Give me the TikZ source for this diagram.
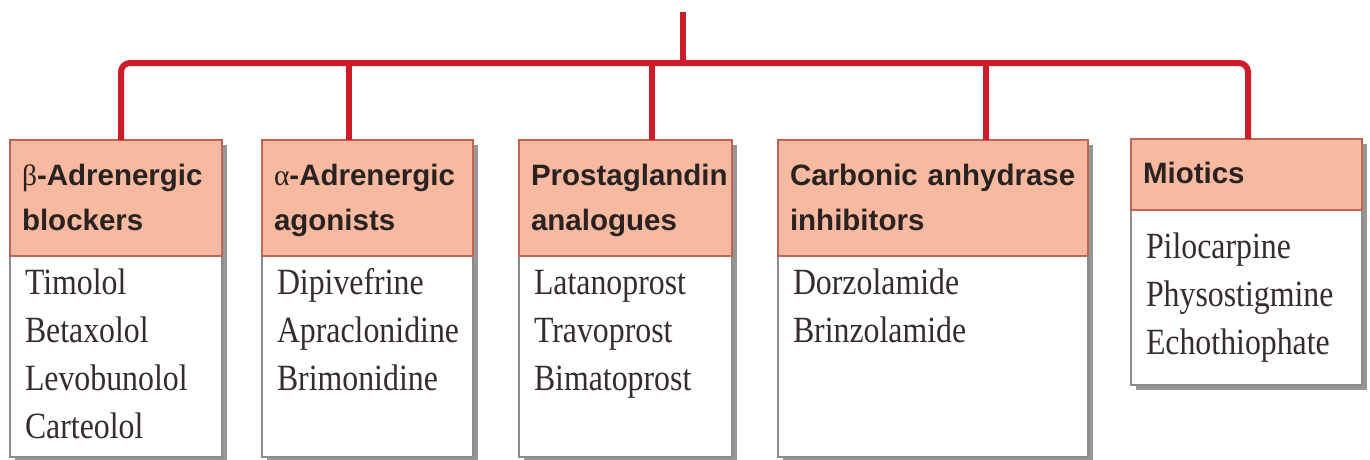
\documentclass[tikz,border=0pt]{standalone}
\usepackage{fontspec}
\setmainfont{Liberation Serif}
\setsansfont{Liberation Sans}
\newfontfamily\drugfont[FakeStretch=0.86]{Liberation Serif}
\usetikzlibrary{positioning,backgrounds}

\definecolor{hdrfill}{RGB}{247,186,160}
\definecolor{hdrline}{RGB}{192,100,84}
\definecolor{treered}{RGB}{206,28,42}
\definecolor{bodyline}{RGB}{140,140,140}
\definecolor{shadowgray}{RGB}{150,150,150}
\definecolor{inktext}{RGB}{42,34,32}

\begin{document}
\begin{tikzpicture}[
      x=1pt,y=-1pt,
      every node/.style={inner sep=0pt,outer sep=0pt},
      hdr/.style={draw=hdrline,line width=1.6pt,fill=hdrfill,align=left,inner xsep=12pt,
        font=\sffamily\bfseries\fontsize{29.5}{45}\selectfont,text=inktext,text width=#1},
      drugs/.style={draw=bodyline,line width=1.4pt,fill=white,anchor=north west,align=left,inner xsep=15pt,
        font=\drugfont\fontsize{37}{48}\selectfont,text=inktext!95,text width=#1},
      link/.style={draw=treered,line width=6pt}
    ]
    \useasboundingbox (0,0) rectangle (1370,459);
    % drug lists
    \node[drugs=182,text height=38pt,text depth=163pt] (b1) at (10,256) {Timolol\\ Betaxolol\\ Levobunolol\\ Carteolol};
    \node[drugs=181,text height=38pt,text depth=163pt] (b2) at (262,256) {Dipivefrine\\ Apraclonidine\\ Brimonidine};
    \node[drugs=183,text height=38pt,text depth=163pt] (b3) at (519,256) {Latanoprost\\ Travoprost\\ Bimatoprost};
    \node[drugs=280,text height=38pt,text depth=163pt] (b4) at (778,256) {Dorzolamide\\ Brinzolamide};
    \node[drugs=201,text height=48pt,text depth=127pt] (b5) at (1131,210) {Pilocarpine\\ Physostigmine\\ Echothiophate};
    % class headers
    \node[hdr=188,text height=45pt,text depth=71pt,above=0pt of b1] (h1) {{\rmfamily\mdseries β}-Adrenergic\\ blockers};
    \node[hdr=187,text height=45pt,text depth=71pt,above=0pt of b2] (h2) {{\rmfamily\mdseries α}-Adrenergic\\ agonists};
    \node[hdr=189,text height=45pt,text depth=71pt,above=0pt of b3] (h3) {Prostaglandin\\ analogues};
    \node[hdr=286,text height=45pt,text depth=71pt,above=0pt of b4] (h4) {Carbonic anhydrase\\ inhibitors};
    \node[hdr=207,text height=44pt,text depth=27pt,above=0pt of b5] (h5) {Miotics};
    % shadows
    \begin{scope}[on background layer]
      \foreach \i in {1,...,5}{
        \fill[shadowgray] ([shift={(5,5)}]h\i.north west) rectangle ([shift={(5,5)}]b\i.south east);}
    \end{scope}
    % tree
    \coordinate (root) at (683,12);
    \coordinate (j1) at (121,63);
    \coordinate (j2) at (349,63);
    \coordinate (j3) at (652,63);
    \coordinate (j4) at (986,63);
    \coordinate (j5) at (1248,63);
    \draw[link,rounded corners=9pt] (j1 |- h1.north) -- (j1) -- (j5) -- (j5 |- h5.north);
    \foreach \j/\h in {j2/h2,j3/h3,j4/h4}{\draw[link] (\j) -- (\j |- \h.north);}
    \draw[link] (root) -- (root |- j1);
  \end{tikzpicture}
\end{document}
